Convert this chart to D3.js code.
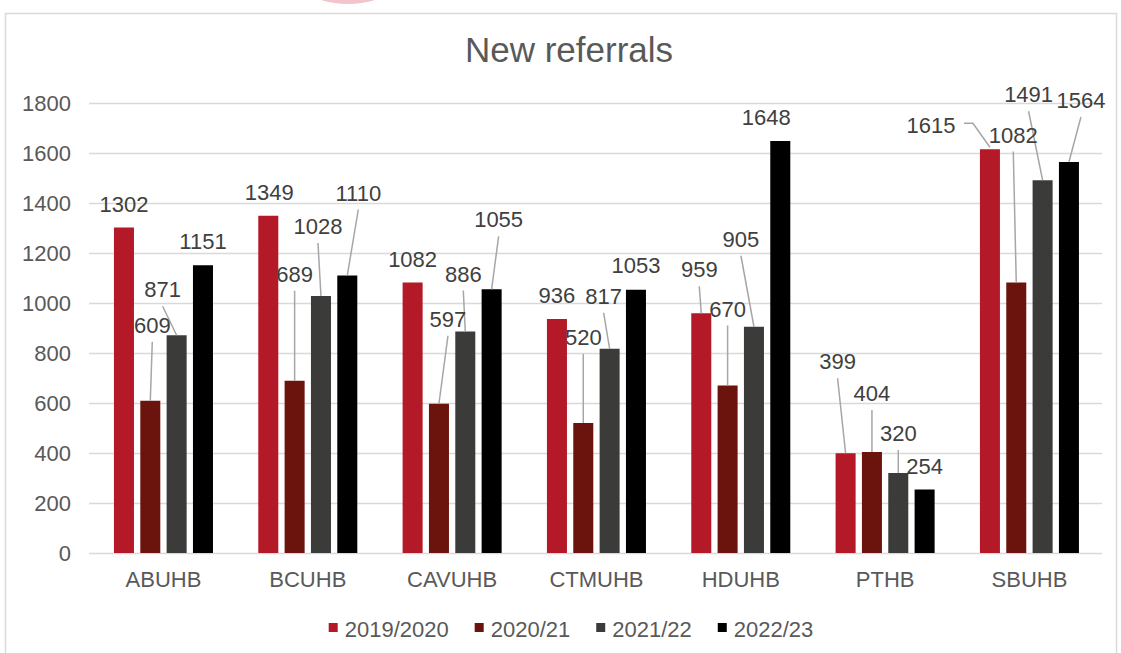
<!DOCTYPE html>
<html>
<head>
<meta charset="utf-8">
<script src="https://cdn.jsdelivr.net/npm/d3@7"></script>
<style>
  body { margin: 0; background: #fff; }
  svg { display: block; font-family: "Liberation Sans", Arial, sans-serif; }
</style>
</head>
<body>
<svg id="chart"></svg>
<script>
var width = 1121;
var height = 653;

var boards = ['ABUHB', 'BCUHB', 'CAVUHB', 'CTMUHB', 'HDUHB', 'PTHB', 'SBUHB'];
var years = ['2019/2020', '2020/21', '2021/22', '2022/23'];
var colors = ['#b31927', '#6b140d', '#3b3b3a', '#000000'];
var yTicks = [0, 200, 400, 600, 800, 1000, 1200, 1400, 1600, 1800];

var v2019 = [1302, 1349, 1082, 936, 959, 399, 1615];
var v2020 = [609, 689, 597, 520, 670, 404, 1082];
var v2021 = [871, 1028, 886, 817, 905, 320, 1491];
var v2022 = [1151, 1110, 1055, 1053, 1648, 254, 1564];
var values = [v2019, v2020, v2021, v2022];

// hand placed label offsets (dx, dy from bar top centre), as in the source chart
var labelOffsets = [
  [[0, -16], [2, -68], [-14, -38], [0, -16]],
  [[1, -16], [0, -99], [-3, -62], [11, -75]],
  [[0, -16], [9, -77], [-2, -50], [7, -62]],
  [[0, -16], [0, -78], [-6, -45], [0, -17]],
  [[-2, -36], [0, -69], [-13, -80], [-14, -16]],
  [[-8, -84], [0, -51], [0, -32], [0, -16]],
  [[-59, -16, 'side'], [-3, -140], [-14, -78], [12, -54]]
];

var svg = d3.select('#chart')
  .attr('width', width)
  .attr('height', height);

// pink blob at the top edge
svg.append('ellipse')
  .attr('cx', 348).attr('cy', -5)
  .attr('rx', 32).attr('ry', 9)
  .attr('fill', '#f2c4cb');

svg.append('rect')
  .attr('x', 5.5).attr('y', 13.5)
  .attr('width', 1111).attr('height', 700)
  .attr('fill', '#fff')
  .attr('stroke', '#d9d9d9')
  .attr('stroke-width', 1.5);

var x = d3.scaleBand()
  .domain(boards)
  .range([91.3, 1101.6]);

var x1 = d3.scaleBand()
  .domain(years)
  .range([0, x.bandwidth()])
  .paddingInner(0.24)
  .paddingOuter(0.86);

var y = d3.scaleLinear()
  .domain([0, 1800])
  .range([553, 103]);

svg.append('text')
  .attr('x', 569)
  .attr('y', 62)
  .attr('text-anchor', 'middle')
  .attr('fill', '#595959')
  .style('font-size', '35px')
  .text('New referrals');

var yAxis = svg.append('g')
  .attr('transform', 'translate(89,0)')
  .call(d3.axisLeft(y)
    .tickValues(yTicks)
    .tickFormat(d3.format('d'))
    .tickSize(-(1102 - 89))
    .tickPadding(18));

yAxis.select('.domain').remove();
yAxis.selectAll('line')
  .attr('stroke', '#d9d9d9')
  .attr('stroke-width', 1.5);
yAxis.selectAll('text')
  .attr('fill', '#595959')
  .style('font-size', '22px');

var xAxis = svg.append('g')
  .attr('transform', 'translate(0,553)')
  .call(d3.axisBottom(x).tickSize(0).tickPadding(18));

xAxis.select('.domain').remove();
xAxis.selectAll('text')
  .attr('fill', '#595959')
  .attr('dy', '0.71em')
  .style('font-size', '22px');

var bars = [];
boards.forEach(function(b, i) {
  years.forEach(function(yr, j) {
    bars.push({
      board: b, year: yr, s: j, value: values[j][i],
      off: labelOffsets[i][j]
    });
  });
});

svg.append('g')
  .selectAll('rect')
  .data(bars)
  .enter()
  .append('rect')
  .attr('x', d => x(d.board) + x1(d.year))
  .attr('y', d => y(d.value))
  .attr('width', x1.bandwidth())
  .attr('height', d => y(0) - y(d.value))
  .attr('fill', d => colors[d.s]);

// leader lines
var leaders = svg.append('g')
  .attr('fill', 'none')
  .attr('stroke', '#a6a6a6')
  .attr('stroke-width', 1.5);

bars.forEach(function(d) {
  var cx = x(d.board) + x1(d.year) + x1.bandwidth() / 2;
  var top = y(d.value);
  var lx = cx + d.off[0];
  var ly = top + d.off[1];
  if (d.off[2] === 'side') {
    leaders.append('path')
      .attr('d', d3.line()([[lx + 33, ly - 10], [lx + 42, ly - 10], [cx, top - 2]]));
  } else if (d.off[1] < -25) {
    leaders.append('path')
      .attr('d', d3.line()([[lx, ly + 9], [cx, top]]));
  }
});

svg.append('g')
  .selectAll('text')
  .data(bars)
  .enter()
  .append('text')
  .attr('x', d => x(d.board) + x1(d.year) + x1.bandwidth() / 2 + d.off[0])
  .attr('y', d => y(d.value) + d.off[1])
  .attr('text-anchor', 'middle')
  .attr('fill', '#404040')
  .style('font-size', '22px')
  .text(d => d.value);

// legend
var legend = svg.append('g');
var lx = 0;
years.forEach(function(yr, j) {
  var item = legend.append('g').attr('transform', 'translate(' + lx + ',0)');
  item.append('rect')
    .attr('x', 0).attr('y', 623)
    .attr('width', 9).attr('height', 9)
    .attr('fill', colors[j]);
  var t = item.append('text')
    .attr('x', 16).attr('y', 637)
    .attr('fill', '#595959')
    .style('font-size', '22px')
    .text(yr);
  lx += 16 + t.node().getComputedTextLength() + 26;
});
var legendWidth = lx - 26;
legend.attr('transform', 'translate(' + (571 - legendWidth / 2) + ',0)');
</script>
</body>
</html>
